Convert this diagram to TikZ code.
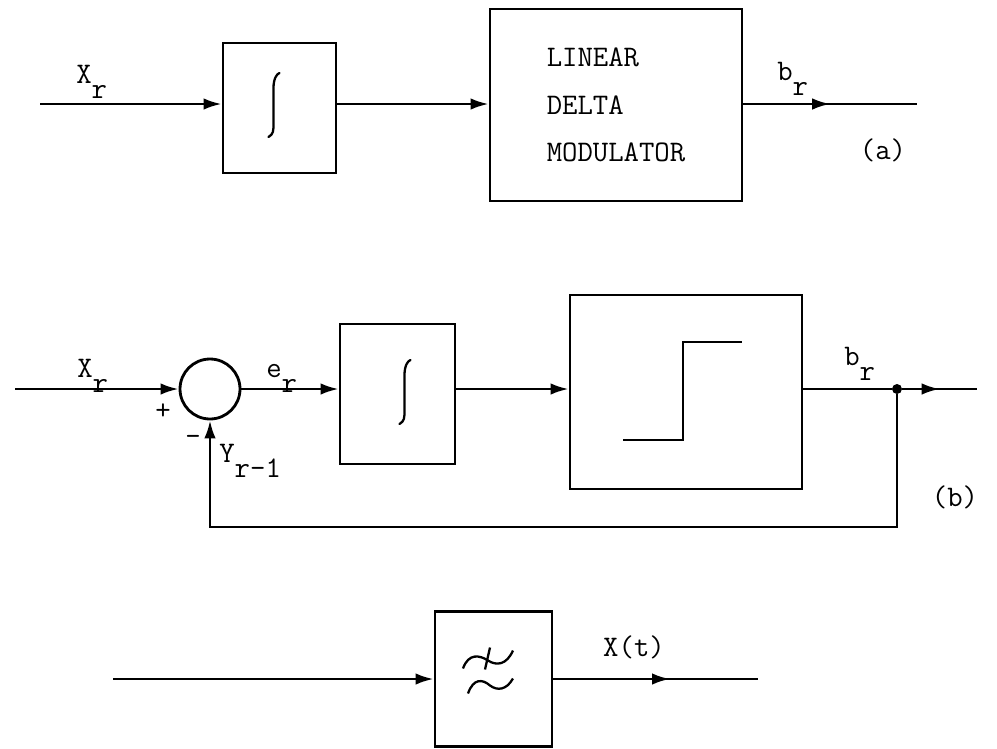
\documentclass[tikz,border=0pt]{standalone}
\usepackage{fontspec}
\usetikzlibrary{arrows.meta}
\usetikzlibrary{decorations.markings}
\newcommand{\tsub}[2]{#1\raisebox{-9pt}{#2}}

\tikzset{
  blk/.style={draw, line width=1.6pt, inner sep=0pt},
  wire/.style={line width=1.5pt},
  arr/.style={wire, -{Latex[length=3.6mm,width=2.3mm]}},
  midarr/.style={postaction={decorate}, decoration={markings,
    mark=at position #1 with {\arrow{Latex[length=3.6mm,width=2.3mm]}}}},
  lbl/.style={inner sep=0pt, anchor=base west},
}

\begin{document}
\begin{tikzpicture}[x=0.02cm, y=-0.02cm, font=\ttfamily\fontsize{17}{20}\selectfont]
\useasboundingbox (0,0) rectangle (997,748);

% (a)
\coordinate (ina) at (40,104);
\coordinate (outa) at (917,104);
\node[blk, minimum width=2.26cm, minimum height=2.6cm] (inta) at (279.5,108) {};
\node[blk, minimum width=5.04cm, minimum height=3.84cm, align=left,
  font=\ttfamily\fontsize{17}{27}\selectfont] (ldm) at (616,105) {LINEAR\\DELTA\\MODULATOR};

\draw[arr] (ina) -- (ina -| inta.west);
\draw[arr] (inta.east |- ina) -- (ina -| ldm.west);
\draw[wire, midarr=0.5] (ldm.east |- ina) -- (outa);

\begin{scope}[shift={(inta.center)}]
\draw[line width=1.3pt, line cap=round] (-11,29) .. controls +(5,-3) and +(0,8) .. ++(5,-14)
  -- ++(0,-35) .. controls +(0,-9) and +(-3,1) .. ++(6,-15);
\end{scope}

\node[lbl] (xa) at (76,83) {\tsub{X}{r}};
\node[lbl] (ba) at (777,80) {\tsub{b}{r}};
\node (taga) at (883,150) {(a)};

% (b)
\coordinate (inb) at (15,389);
\coordinate (outb) at (977,389);
\node[draw, circle, line width=1.6pt, minimum size=1.2cm, inner sep=0pt] (sum) at (210,389) {};
\node[blk, minimum width=2.3cm, minimum height=2.8cm] (intb) at (397.5,394) {};
\node[blk, minimum width=4.64cm, minimum height=3.88cm] (step) at (686,392) {};
\node[circle, fill, inner sep=0pt, minimum size=0.2cm] (jct) at (897,389) {};

\draw[arr] (inb) -- (sum.west);
\draw[arr] (sum.east) -- (sum.east -| intb.west);
\draw[arr] (intb.east |- sum) -- (sum -| step.west);
\draw[wire] (step.east |- sum) -- (jct);
\draw[wire, midarr=0.5] (jct) -- (outb);
\draw[arr] (jct) -- ++(0,138) -| (sum.south);

\begin{scope}[shift={(intb.center)}]
\draw[line width=1.3pt, line cap=round] (2,30) .. controls +(5,-3) and +(0,8) .. ++(5,-14)
  -- ++(0,-35) .. controls +(0,-9) and +(-3,1) .. ++(6,-15);
\end{scope}
\begin{scope}[shift={(step.center)}]
\draw[wire] (-63,48) -- (-3,48) -- (-3,-50) -- (56,-50);
\end{scope}

\node[lbl] (xb) at (77,377) {\tsub{X}{r}};
\node[lbl] (eb) at (266,377) {\tsub{e}{r}};
\node (plus) at (163,412) {+};
\node (minus) at (193,440) {-};
\node[lbl] (yb) at (219,462) {\tsub{Y}{r-1}};
\node[lbl] (bb) at (844,365) {\tsub{b}{r}};
\node (tagb) at (955,497) {(b)};

% (c)
\coordinate (inc) at (113,679);
\coordinate (outc) at (758,679);
\node[blk, minimum width=2.34cm, minimum height=2.7cm] (lpf) at (493.5,679) {};

\draw[arr] (inc) -- (lpf.west);
\draw[wire, midarr=0.57] (lpf.east) -- (outc);

\begin{scope}[shift={(lpf.center)}]
\draw[line width=1.3pt] (-30.5,-10.5) .. controls (-25,-26) and (-14,-24) .. (-5.5,-18.5)
  .. controls (3,-13) and (13,-14) .. (19.5,-28.5);
\draw[line width=1.3pt] (-25.5,14.5) .. controls (-20,-1) and (-11,0) .. (-3.5,6.5)
  .. controls (4,12) and (13,11) .. (19.5,-0.5);
\draw[line width=1.3pt] (-8.5,-9.5) -- (-3.5,-31.5);
\end{scope}

\node (xc) at (634,647) {X(t)};
\end{tikzpicture}
\end{document}
